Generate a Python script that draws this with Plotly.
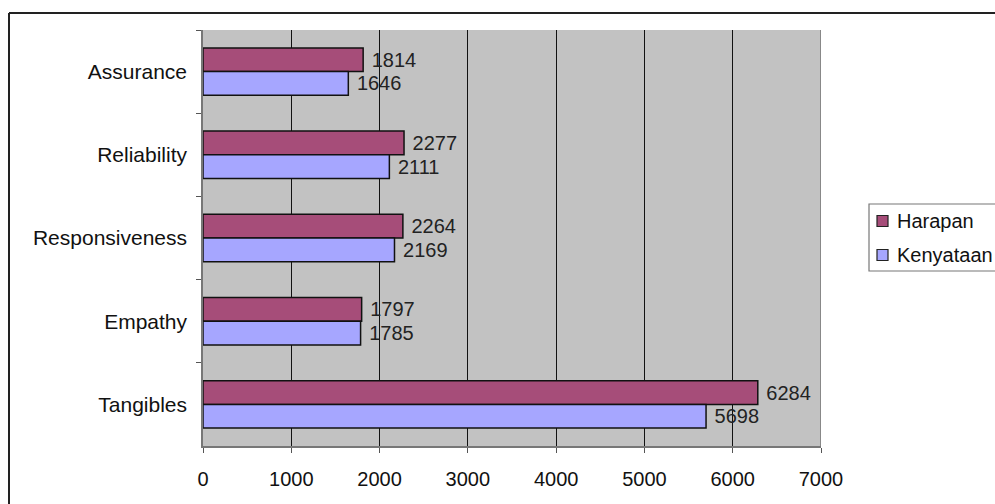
import plotly.graph_objects as go

categories = ["Assurance", "Reliability", "Responsiveness", "Empathy", "Tangibles"]
harapan = [1814, 2277, 2264, 1797, 6284]
kenyataan = [1646, 2111, 2169, 1785, 5698]
x_ticks = [0, 1000, 2000, 3000, 4000, 5000, 6000, 7000]
series_names = ["Harapan", "Kenyataan"]
series_colors = ["#A64D79", "#A6A6FF"]

FONT = "Liberation Sans, Arial, sans-serif"
W, H = 995, 504
L, R, T, B = 203, 995 - 821, 30, 504 - 446
pw, ph = W - L - R, H - T - B

def px2paper_x(px):
    return (px - L) / pw

def px2paper_y(py):
    return 1 - (py - T) / ph

fig = go.Figure()
for name, vals, col in zip(series_names, [harapan, kenyataan], series_colors):
    fig.add_trace(go.Bar(
        y=categories, x=vals, orientation="h", name=name,
        marker=dict(color=col, line=dict(color="#111111", width=1.5)),
        texttemplate=" %{x}", textposition="outside",
        textfont=dict(family=FONT, size=20, color="#222222"),
        cliponaxis=False, showlegend=False,
    ))

shapes = [
    dict(type="line", xref="x", yref="paper", x0=7000, x1=7000, y0=0, y1=1,
         line=dict(color="#888888", width=2)),
    dict(type="line", xref="paper", yref="paper",
         x0=px2paper_x(9), x1=px2paper_x(9), y0=px2paper_y(520), y1=px2paper_y(13),
         line=dict(color="#222222", width=2)),
    dict(type="line", xref="paper", yref="paper",
         x0=px2paper_x(9), x1=px2paper_x(1010), y0=px2paper_y(13), y1=px2paper_y(13),
         line=dict(color="#222222", width=2)),
    # legend box
    dict(type="rect", xref="paper", yref="paper",
         x0=px2paper_x(869), x1=px2paper_x(1010), y0=px2paper_y(271), y1=px2paper_y(204),
         fillcolor="white", line=dict(color="#777777", width=1.2)),
]
annotations = []
legend_centers = [221, 255]
for name, col, cy in zip(series_names, series_colors, legend_centers):
    shapes.append(dict(type="rect", xref="paper", yref="paper",
                       x0=px2paper_x(877), x1=px2paper_x(888),
                       y0=px2paper_y(cy + 5.5), y1=px2paper_y(cy - 5.5),
                       fillcolor=col, line=dict(color="#222222", width=1.2)))
    annotations.append(dict(x=px2paper_x(895), y=px2paper_y(cy), xref="paper", yref="paper",
                            text=name, showarrow=False, xanchor="left", yanchor="middle",
                            font=dict(family=FONT, size=20, color="#111111")))

fig.update_layout(
    width=W, height=H,
    margin=dict(l=L, r=R, t=T, b=B, autoexpand=False),
    barmode="group", bargap=0.43, bargroupgap=0,
    paper_bgcolor="white", plot_bgcolor="#C2C2C2",
    font=dict(family=FONT, size=19, color="#111111"),
    showlegend=False,
    xaxis=dict(
        range=[0, 7000], tickvals=x_ticks, ticktext=[str(v) for v in x_ticks],
        showgrid=True, gridcolor="#111111", gridwidth=1,
        zeroline=False, showline=True, linecolor="#777777", linewidth=1.5,
        ticks="outside", ticklen=5, tickcolor="#555555",
        ticklabelstandoff=9,
        tickfont=dict(family=FONT, size=20, color="#111111"),
    ),
    yaxis=dict(
        autorange="reversed", showgrid=False, zeroline=False,
        showline=True, linecolor="#777777", linewidth=1.5,
        ticks="outside", ticklen=5, tickcolor="#555555", tickson="boundaries",
        ticklabelstandoff=10,
        tickfont=dict(family=FONT, size=21, color="#111111"),
    ),
    shapes=shapes,
    annotations=annotations,
)

fig.write_html("out.html")
